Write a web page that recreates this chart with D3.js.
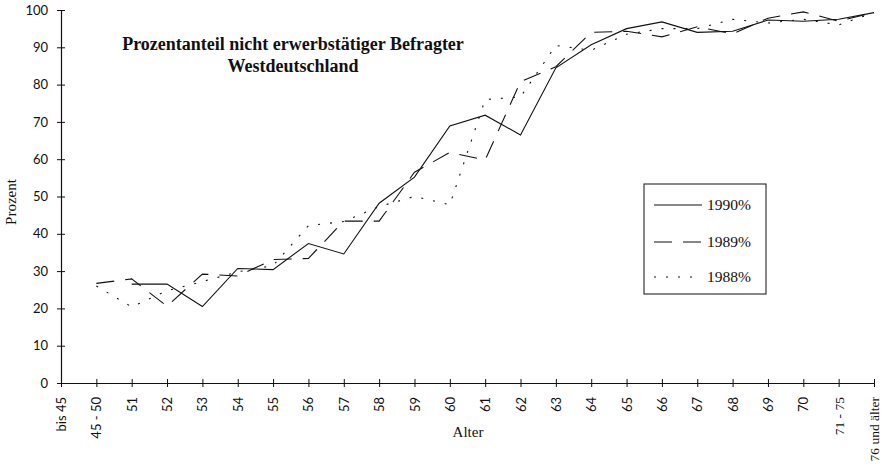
<!DOCTYPE html>
<html>
<head>
<meta charset="utf-8">
<script src="https://cdn.jsdelivr.net/npm/d3@7"></script>
<style>
  html, body { margin: 0; padding: 0; background: #fff; }
  svg { display: block; }
  .tick-sans { font-family: Lato, "Open Sans", sans-serif; font-size: 13px; fill: #111; }
  .tick-serif { font-family: "Liberation Serif", "Times New Roman", serif; font-size: 13.5px; fill: #111; }
  .serif { font-family: "Liberation Serif", "Times New Roman", serif; fill: #111; }
</style>
</head>
<body>
<svg id="chart" width="885" height="466"></svg>
<script>
// Age groups on the x axis
const categories = ["bis 45", "45 - 50", "51", "52", "53", "54", "55", "56", "57", "58", "59",
  "60", "61", "62", "63", "64", "65", "66", "67", "68", "69", "70", "71 - 75", "76 und älter"];

// Share of respondents not in employment, percent (null = no value)
const values1990 = [null, null, 26.5, 26.5, 20.5, 30.7, 30.4, 37.4, 34.6, 48.2, 55.2,
  68.9, 71.8, 66.5, 84.5, 90.7, 95.0, 96.8, 94.0, 94.3, 97.3, 97.0, 97.5, 99.3];
const values1989 = [null, 26.7, 27.9, 20.6, 29.2, 28.7, 33.1, 33.4, 43.4, 43.4, 56.5,
  61.8, 59.8, 80.8, 84.8, 94.0, 94.3, 92.8, 95.5, 93.6, 97.8, 99.5, 97.0, 99.3];
const values1988 = [null, 26.0, 20.4, 24.7, 27.2, 29.8, 31.5, 42.2, 43.3, 47.3, 50.0,
  47.8, 76.0, 76.7, 90.5, 89.2, 93.5, 95.0, 95.0, 97.5, 96.5, 97.5, 96.0, 99.3];

const seriesNames = ["1990%", "1989%", "1988%"];
const yTicks = [0, 10, 20, 30, 40, 50, 60, 70, 80, 90, 100];
const serifTickLabels = ["71 - 75", "76 und älter"];

const series = [
  { name: seriesNames[0], values: values1990, dash: null },
  { name: seriesNames[1], values: values1989, dash: "18,11" },
  { name: seriesNames[2], values: values1988, dash: "2,10" }
];

const svg = d3.select("#chart");
const x = d3.scalePoint().domain(categories).range([61, 874]);
const y = d3.scaleLinear().domain([0, 100]).range([383, 10]);

// y axis with ticks crossing the axis line
const yAxis = svg.append("g")
  .attr("transform", `translate(${x(categories[0])},0)`)
  .call(d3.axisLeft(y).tickValues(yTicks).tickSize(4).tickPadding(9).tickSizeOuter(0));
yAxis.select(".domain").attr("stroke", "#111").attr("stroke-width", 1.2);
yAxis.selectAll(".tick line").attr("x1", -4).attr("x2", 4).attr("stroke", "#111");
yAxis.selectAll(".tick text").attr("class", "tick-sans").attr("font-family", null).attr("font-size", null);

// x axis with rotated category labels
const xAxis = svg.append("g")
  .attr("transform", `translate(0,${y(0)})`)
  .call(d3.axisBottom(x).tickSize(4).tickSizeOuter(0));
xAxis.select(".domain").attr("stroke", "#111").attr("stroke-width", 1.2);
xAxis.selectAll(".tick line").attr("y1", -4).attr("y2", 4).attr("stroke", "#111");
xAxis.selectAll(".tick text")
  .attr("font-family", null).attr("font-size", null)
  .attr("class", d => serifTickLabels.includes(d) ? "tick-serif" : "tick-sans")
  .attr("transform", "rotate(-90)")
  .attr("text-anchor", "end")
  .attr("x", -14)
  .attr("y", 0)
  .attr("dy", "0.35em");

// Lines
const line = d3.line()
  .defined(d => d != null)
  .x((d, i) => x(categories[i]))
  .y(d => y(d));

svg.append("g").selectAll("path")
  .data(series)
  .join("path")
  .attr("d", s => line(s.values))
  .attr("fill", "none")
  .attr("stroke", "#111")
  .attr("stroke-width", 1.1)
  .attr("stroke-dasharray", s => s.dash);

// Axis titles
svg.append("text").attr("class", "serif")
  .attr("x", 468).attr("y", 437)
  .attr("text-anchor", "middle").attr("font-size", 15)
  .text("Alter");
svg.append("text").attr("class", "serif")
  .attr("transform", "translate(16,202) rotate(-90)")
  .attr("text-anchor", "middle").attr("font-size", 15)
  .text("Prozent");

// Chart title
const title = svg.append("text").attr("class", "serif")
  .attr("text-anchor", "middle").attr("font-size", 18).attr("font-weight", "bold");
title.append("tspan").attr("x", 293).attr("y", 50).text("Prozentanteil nicht erwerbstätiger Befragter");
title.append("tspan").attr("x", 293).attr("y", 72).text("Westdeutschland");

// Legend
const legend = svg.append("g").attr("transform", "translate(644,184)");
legend.append("rect")
  .attr("width", 122).attr("height", 110)
  .attr("fill", "#fff").attr("stroke", "#111").attr("stroke-width", 1);
const rowY = [21, 58, 93];
const items = legend.selectAll("g.item").data(series).join("g")
  .attr("class", "item")
  .attr("transform", (d, i) => `translate(0,${rowY[i]})`);
items.append("line")
  .attr("x1", 10).attr("x2", 58)
  .attr("stroke", "#111").attr("stroke-width", 1.1)
  .attr("stroke-dasharray", d => d.dash);
items.append("text").attr("class", "serif")
  .attr("x", 63).attr("dy", "0.35em").attr("font-size", 15.5)
  .text(d => d.name);
</script>
</body>
</html>
